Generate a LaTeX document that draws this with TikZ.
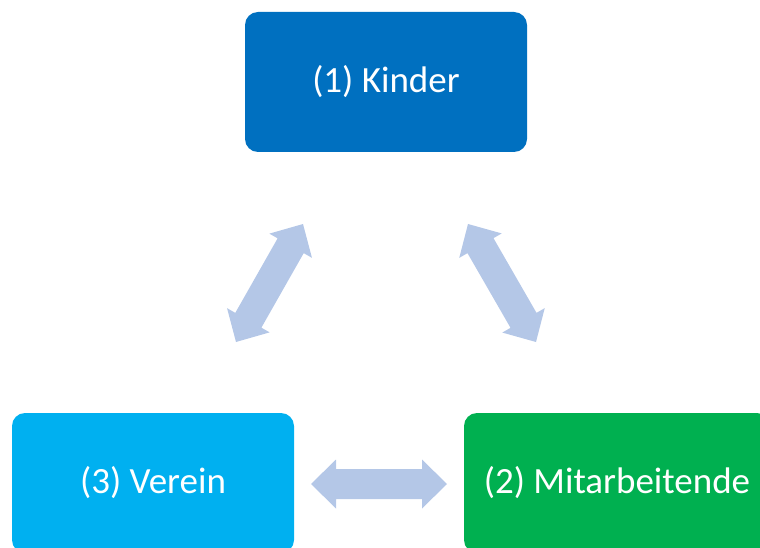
\documentclass[tikz,border=0pt]{standalone}
\usepackage{fontspec}
\setmainfont{Carlito}
\usetikzlibrary{calc}

\definecolor{kinderblau}{HTML}{0070C0}
\definecolor{vereinblau}{HTML}{00B0F0}
\definecolor{mitarbeitgruen}{HTML}{00B050}
\definecolor{pfeilblau}{HTML}{B4C7E7}

\tikzset{
    kasten/.style={rectangle,rounded corners=13pt,draw=none,text=white,
        minimum height=140pt,inner sep=0pt,
        font=\fontsize{37}{44}\selectfont},
    pfeil/.style={fill=pfeilblau,draw=none}
}

\begin{document}
\begin{tikzpicture}[x=1pt,y=1pt]
    % page size of the reference
    \useasboundingbox (0,0) rectangle (760,547);
    \clip (0,0) rectangle (760,547);

    % the three boxes
    \node[kasten,fill=kinderblau,minimum width=282pt] (kinder) at (386,465) {(1) Kinder};
    \node[kasten,fill=vereinblau,minimum width=282pt] (verein) at (153,64) {(3) Verein};
    \node[kasten,fill=mitarbeitgruen,minimum width=306pt] (mitarbeit) at (617,64) {(2) Mitarbeitende};

    % ends of the arrows
    \coordinate (kv-a) at (303,323);
    \coordinate (kv-b) at (236,205);
    \coordinate (km-a) at (468,323);
    \coordinate (km-b) at (536,205);
    \coordinate (vm-a) at (311,63);
    \coordinate (vm-b) at (447,63);

    % double block arrows
    \foreach \a/\b in {kv-a/kv-b, km-a/km-b, vm-a/vm-b} {
        \fill[pfeil] (\a)
            -- ($(\a)!25pt!(\b)!24.5pt!90:(\b)$)
            -- ($(\a)!25pt!(\b)!15pt!90:(\b)$)
            -- ($(\b)!25pt!(\a)!15pt!-90:(\a)$)
            -- ($(\b)!25pt!(\a)!24.5pt!-90:(\a)$)
            -- (\b)
            -- ($(\b)!25pt!(\a)!24.5pt!90:(\a)$)
            -- ($(\b)!25pt!(\a)!15pt!90:(\a)$)
            -- ($(\a)!25pt!(\b)!15pt!-90:(\b)$)
            -- ($(\a)!25pt!(\b)!24.5pt!-90:(\b)$)
            -- cycle;
    }
\end{tikzpicture}
\end{document}
